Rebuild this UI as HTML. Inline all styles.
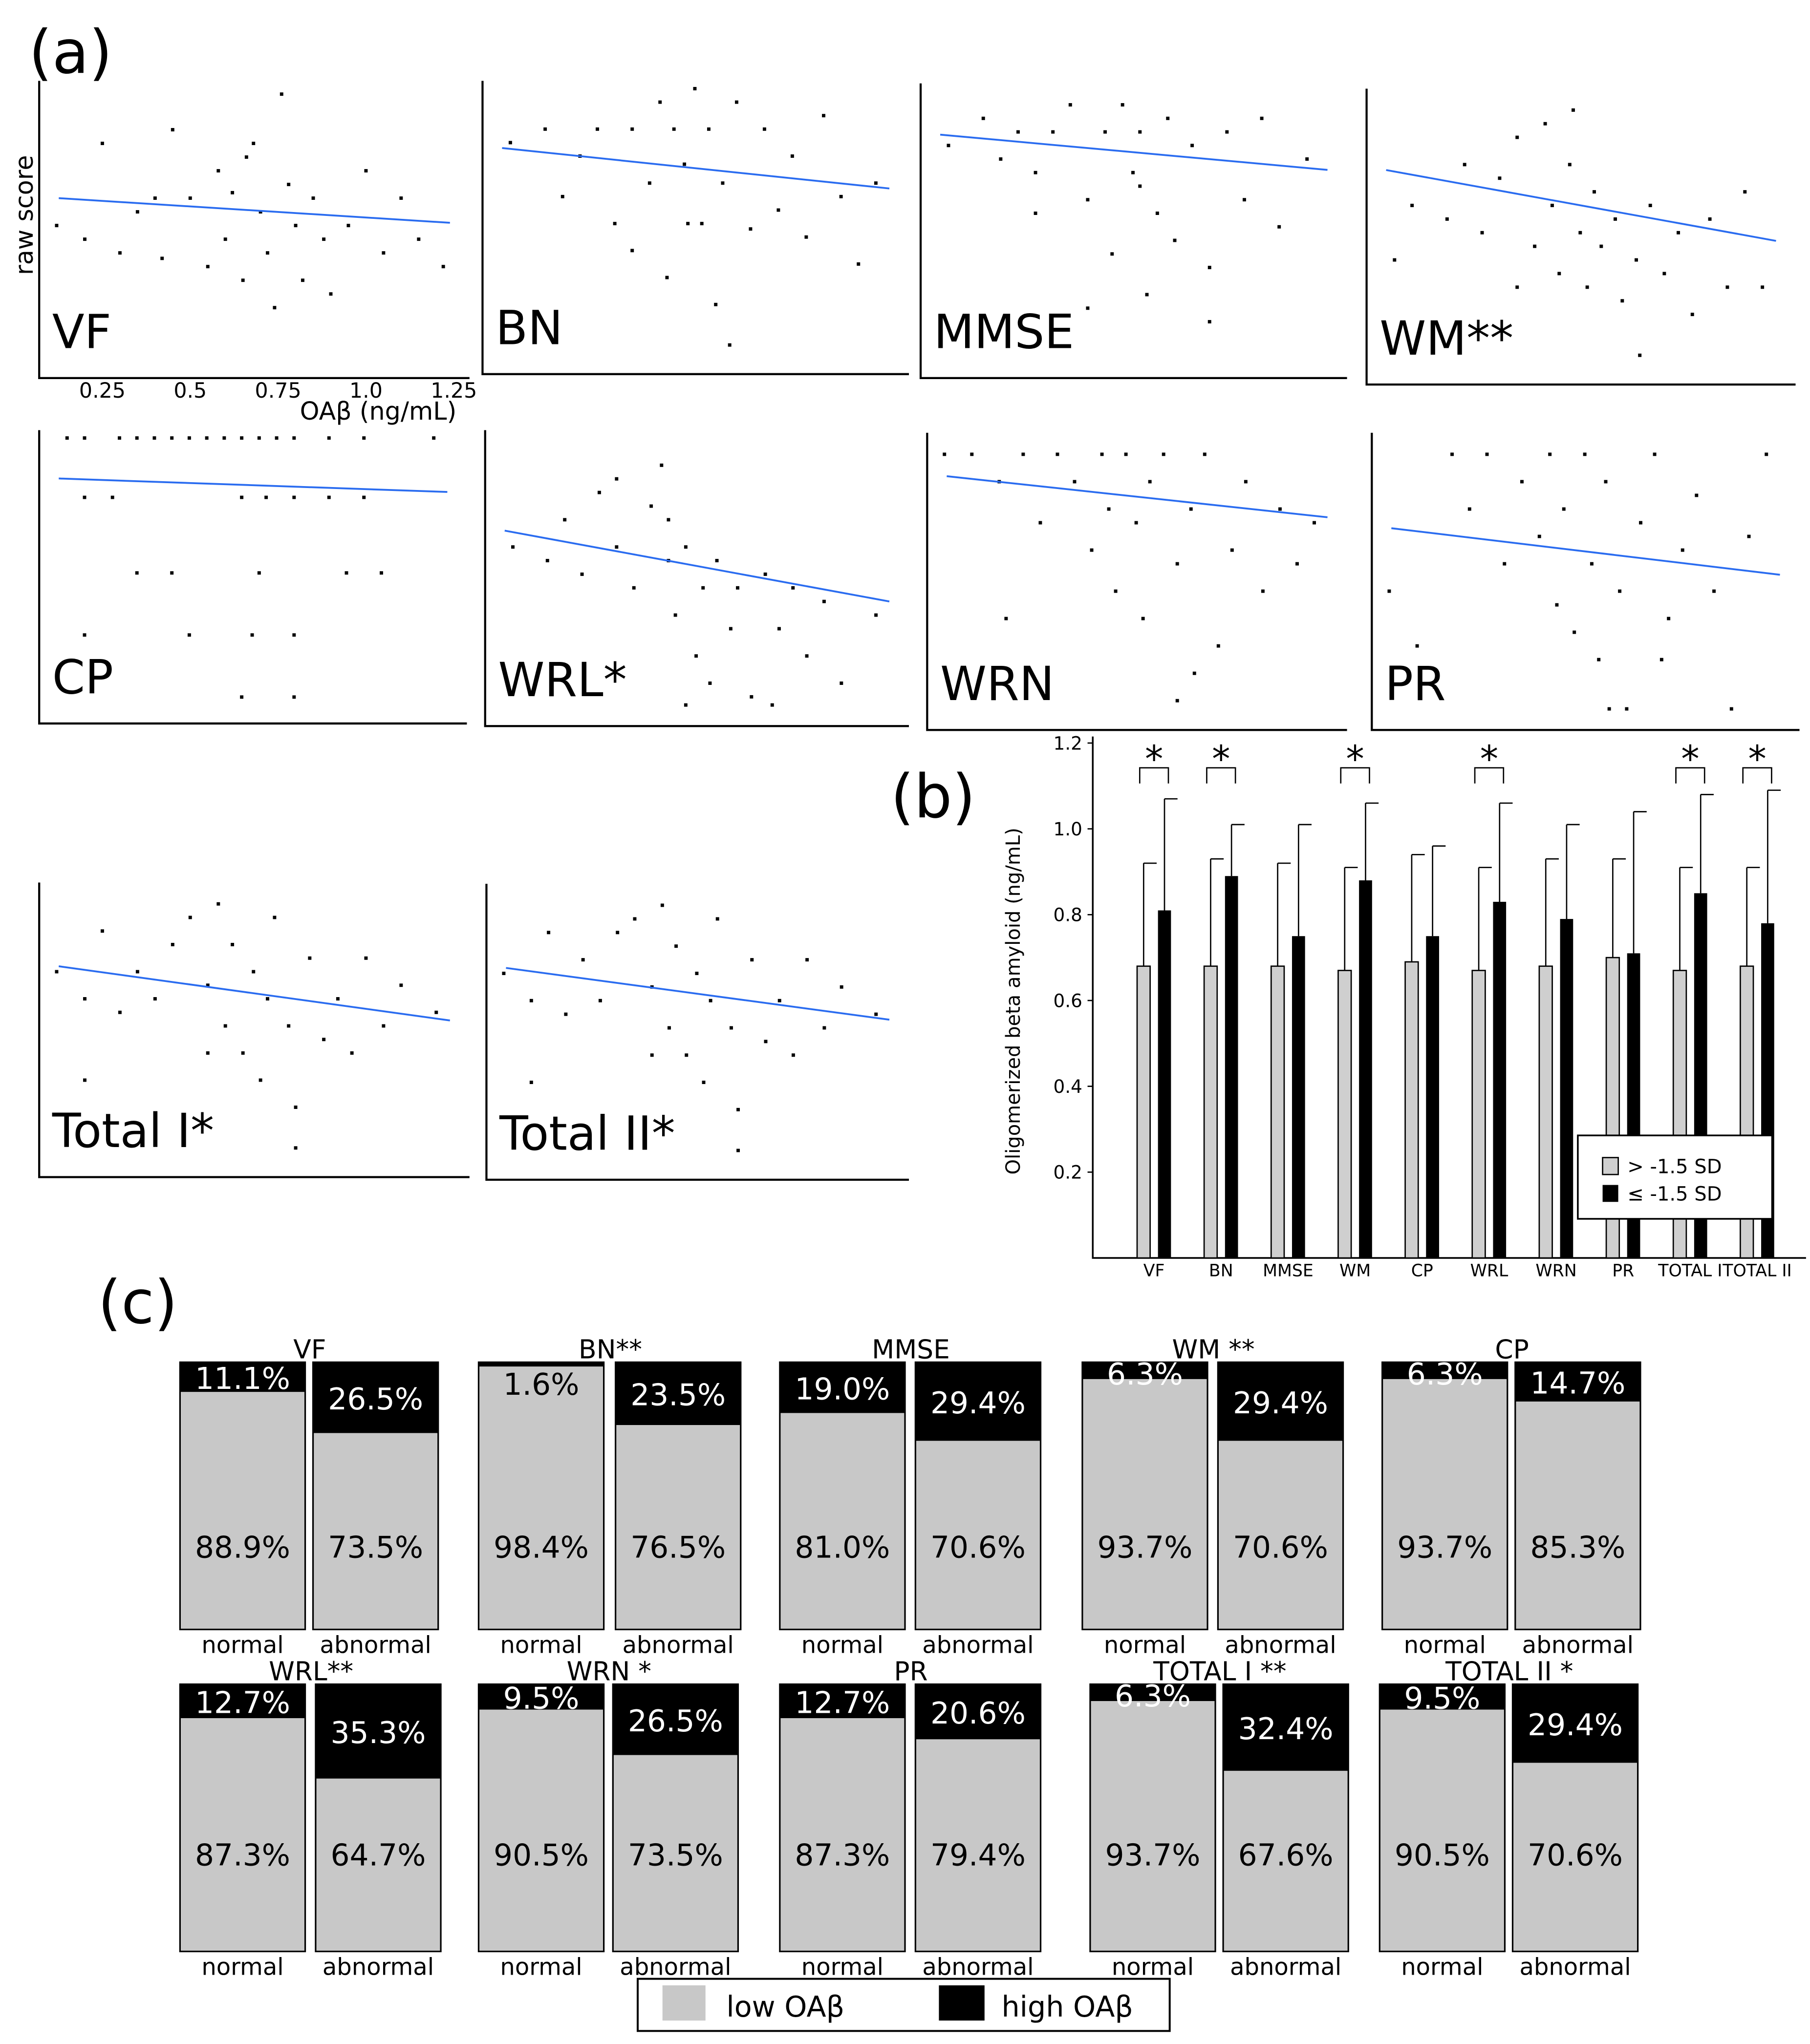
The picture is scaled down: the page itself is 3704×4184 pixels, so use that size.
<!DOCTYPE html>
<html><head><meta charset="utf-8"><style>
html,body{margin:0;padding:0;background:#fff;}
svg{display:block;}
text{font-family:"DejaVu Sans","Liberation Sans",sans-serif;}
</style></head><body>
<svg id="fig" width="3704" height="4184" viewBox="0 0 1388 1568" xmlns="http://www.w3.org/2000/svg">
<rect x="0" y="0" width="1388" height="1568" fill="#fff"/>
<text x="22" y="56" font-size="46">(a)</text>
<text x="683" y="627" font-size="46">(b)</text>
<text x="75" y="1015" font-size="46">(c)</text>
<g id="scatter"></g>
<g id="bars"></g>
<g id="stack"></g>
</svg>
<script>
const NS="http://www.w3.org/2000/svg";
function mk(tag,attrs,parent,txt){const e=document.createElementNS(NS,tag);for(const k in attrs)e.setAttribute(k,attrs[k]);if(txt!==undefined)e.textContent=txt;parent.appendChild(e);return e;}

// ---------- (a) scatter data ----------
const scatterNames=["VF","BN","MMSE","WM**","CP","WRL*","WRN","PR","Total I*","Total II*"];
const lineStartY=[0.60,0.78,0.84,0.73,0.85,0.66,0.87,0.68,0.72,0.72];
const lineEndY=[0.51,0.63,0.71,0.47,0.80,0.40,0.72,0.51,0.52,0.53];
const ptsVF=[[0.12,0.5],[0.2,0.45],[0.3,0.4],[0.35,0.55],[0.42,0.38],[0.45,0.85],[0.5,0.6],[0.55,0.35],[0.58,0.7],[0.6,0.45],[0.62,0.62],[0.65,0.3],[0.68,0.8],[0.7,0.55],[0.72,0.4],[0.74,0.2],[0.76,0.98],[0.78,0.65],[0.8,0.5],[0.82,0.3],[0.85,0.6],[0.88,0.45],[0.9,0.25],[0.95,0.5],[1.0,0.7],[1.05,0.4],[1.1,0.6],[1.15,0.45],[1.22,0.35],[0.25,0.8],[0.4,0.6],[0.66,0.75]];
const ptsBN=[[0.15,0.8],[0.25,0.85],[0.3,0.6],[0.35,0.75],[0.4,0.85],[0.45,0.5],[0.5,0.85],[0.55,0.65],[0.58,0.95],[0.6,0.3],[0.62,0.85],[0.65,0.72],[0.68,1.0],[0.7,0.5],[0.72,0.85],[0.74,0.2],[0.76,0.65],[0.8,0.95],[0.84,0.48],[0.88,0.85],[0.92,0.55],[0.96,0.75],[1.0,0.45],[1.05,0.9],[1.1,0.6],[1.15,0.35],[1.2,0.65],[0.78,0.05],[0.5,0.4],[0.66,0.5]];
const ptsMMSE=[[0.15,0.8],[0.25,0.9],[0.3,0.75],[0.35,0.85],[0.4,0.7],[0.45,0.85],[0.5,0.95],[0.55,0.6],[0.6,0.85],[0.62,0.4],[0.65,0.95],[0.68,0.7],[0.7,0.85],[0.72,0.25],[0.75,0.55],[0.78,0.9],[0.8,0.45],[0.85,0.8],[0.9,0.35],[0.95,0.85],[1.0,0.6],[1.05,0.9],[1.1,0.5],[1.18,0.75],[0.55,0.2],[0.9,0.15],[0.4,0.55],[0.7,0.65]];
const ptsWM=[[0.15,0.4],[0.2,0.6],[0.3,0.55],[0.35,0.75],[0.4,0.5],[0.45,0.7],[0.5,0.85],[0.55,0.45],[0.58,0.9],[0.6,0.6],[0.62,0.35],[0.65,0.75],[0.68,0.5],[0.7,0.3],[0.72,0.65],[0.74,0.45],[0.78,0.55],[0.8,0.25],[0.84,0.4],[0.88,0.6],[0.92,0.35],[0.96,0.5],[1.0,0.2],[1.05,0.55],[1.1,0.3],[1.15,0.65],[1.2,0.3],[0.85,0.05],[0.5,0.3],[0.66,0.95]];
const ptsCP=[[0.15,1.0],[0.2,1.0],[0.3,1.0],[0.35,1.0],[0.4,1.0],[0.45,1.0],[0.5,1.0],[0.55,1.0],[0.6,1.0],[0.65,1.0],[0.7,1.0],[0.75,1.0],[0.8,1.0],[0.9,1.0],[1.0,1.0],[1.2,1.0],[0.2,0.78],[0.28,0.78],[0.65,0.78],[0.72,0.78],[0.8,0.78],[0.9,0.78],[1.0,0.78],[0.35,0.5],[0.45,0.5],[0.7,0.5],[0.95,0.5],[1.05,0.5],[0.2,0.27],[0.5,0.27],[0.68,0.27],[0.8,0.27],[0.65,0.04],[0.8,0.04]];
const ptsWRL=[[0.15,0.6],[0.25,0.55],[0.3,0.7],[0.35,0.5],[0.4,0.8],[0.45,0.6],[0.5,0.45],[0.55,0.75],[0.58,0.9],[0.6,0.55],[0.62,0.35],[0.65,0.6],[0.68,0.2],[0.7,0.45],[0.72,0.1],[0.74,0.55],[0.78,0.3],[0.8,0.45],[0.84,0.05],[0.88,0.5],[0.92,0.3],[0.96,0.45],[1.0,0.2],[1.05,0.4],[1.1,0.1],[1.2,0.35],[0.65,0.02],[0.9,0.02],[0.45,0.85],[0.6,0.7]];
const ptsWRN=[[0.12,0.95],[0.2,0.95],[0.28,0.85],[0.35,0.95],[0.4,0.7],[0.45,0.95],[0.5,0.85],[0.55,0.6],[0.58,0.95],[0.6,0.75],[0.62,0.45],[0.65,0.95],[0.68,0.7],[0.7,0.35],[0.72,0.85],[0.76,0.95],[0.8,0.55],[0.84,0.75],[0.88,0.95],[0.92,0.25],[0.96,0.6],[1.0,0.85],[1.05,0.45],[1.1,0.75],[1.15,0.55],[1.2,0.7],[0.85,0.15],[0.8,0.05],[0.3,0.35]];
const ptsPR=[[0.12,0.45],[0.2,0.25],[0.3,0.95],[0.35,0.75],[0.4,0.95],[0.45,0.55],[0.5,0.85],[0.55,0.65],[0.58,0.95],[0.6,0.4],[0.62,0.75],[0.65,0.3],[0.68,0.95],[0.7,0.55],[0.72,0.2],[0.74,0.85],[0.78,0.45],[0.8,0.02],[0.84,0.7],[0.88,0.95],[0.92,0.35],[0.96,0.6],[1.0,0.8],[1.05,0.45],[1.1,0.02],[1.15,0.65],[1.2,0.95],[0.75,0.02],[0.25,0.1],[0.9,0.2]];
const ptsT1=[[0.12,0.7],[0.2,0.6],[0.25,0.85],[0.3,0.55],[0.35,0.7],[0.4,0.6],[0.45,0.8],[0.5,0.9],[0.55,0.65],[0.58,0.95],[0.6,0.5],[0.62,0.8],[0.65,0.4],[0.68,0.7],[0.7,0.3],[0.72,0.6],[0.74,0.9],[0.78,0.5],[0.8,0.2],[0.84,0.75],[0.88,0.45],[0.92,0.6],[0.96,0.4],[1.0,0.75],[1.05,0.5],[1.1,0.65],[1.2,0.55],[0.2,0.3],[0.8,0.05],[0.55,0.4]];
const ptsT2=[[0.12,0.7],[0.2,0.6],[0.25,0.85],[0.3,0.55],[0.35,0.75],[0.4,0.6],[0.45,0.85],[0.5,0.9],[0.55,0.65],[0.58,0.95],[0.6,0.5],[0.62,0.8],[0.65,0.4],[0.68,0.7],[0.7,0.3],[0.72,0.6],[0.74,0.9],[0.78,0.5],[0.8,0.2],[0.84,0.75],[0.88,0.45],[0.92,0.6],[0.96,0.4],[1.0,0.75],[1.05,0.5],[1.1,0.65],[1.2,0.55],[0.2,0.3],[0.8,0.05],[0.55,0.4]];
const scatterPts=[ptsVF,ptsBN,ptsMMSE,ptsWM,ptsCP,ptsWRL,ptsWRN,ptsPR,ptsT1,ptsT2];
const xTicks=[0.25,0.5,0.75,1.0,1.25];
const xTickLabels=["0.25","0.5","0.75","1.0","1.25"];
const frames=[[30,62,360,290],[370,62,697,287],[706,64,1033,290],[1048,68,1377,295],[30,330,358,555],[372,330,697,557],[711,332,1033,560],[1052,332,1380,560],[30,677,360,903],[373,678,697,905]];

const sg=document.getElementById('scatter');
frames.forEach((f,i)=>{
  const g=mk('g',{},sg);
  
  
  const [l,t,r,b]=f;
  const sx=v=>l+8+(v-0.1)/(1.25-0.1)*(r-l-20);
  const sy=v=>b-12+(t+6-(b-12))*v;
  const ax=mk('path',{d:`M${l} ${t} L${l} ${b} L${r} ${b}`,fill:'none',stroke:'#000','stroke-width':1.6},g);
  
  
  scatterPts[i].forEach(p=>{
    const d=mk('rect',{x:sx(p[0])-1.3,y:sy(p[1])-1.3,width:2.6,height:2.6,fill:'#000'},g);
    
    
  });
  const ln=mk('line',{x1:l+15,y1:sy(lineStartY[i]),x2:r-15,y2:sy(lineEndY[i]),stroke:'#2a6cf0','stroke-width':1.4},g);
  
  
  const lb=mk('text',{x:l+10,y:b-23,'font-size':36},g,scatterNames[i]);
  
  
  if(i===0){
    xTicks.forEach((v,k)=>{
      const tx=mk('text',{x:sx(v),y:b+15,'font-size':16,'text-anchor':'middle'},g,xTickLabels[k]);
      
      
    });
    const xt=mk('text',{x:290,y:322,'font-size':19,'text-anchor':'middle'},g,'OAβ (ng/mL)');
    
    
    const yt=mk('text',{x:0,y:0,'font-size':19,'text-anchor':'middle',transform:'translate(25,165) rotate(-90)'},g,'raw score');
    
    
  }
});

// ---------- (b) bar chart ----------
const barCats=["VF","BN","MMSE","WM","CP","WRL","WRN","PR","TOTAL I","TOTAL II"];
const grayVals=[0.68,0.68,0.68,0.67,0.69,0.67,0.68,0.70,0.67,0.68];
const blackVals=[0.81,0.89,0.75,0.88,0.75,0.83,0.79,0.71,0.85,0.78];
const grayErr=[0.92,0.93,0.92,0.91,0.94,0.91,0.93,0.93,0.91,0.91];
const blackErr=[1.07,1.01,1.01,1.06,0.96,1.06,1.01,1.04,1.08,1.09];
const sigFlags=[1,1,0,1,0,1,0,0,1,1];
const yTicks=[0.2,0.4,0.6,0.8,1.0,1.2];
const yTickLabels=["0.2","0.4","0.6","0.8","1.0","1.2"];
const bg=document.getElementById('bars');
const X0=838,X1=1385,Y0=965,YT=570;
const by=v=>Y0-(v/1.2)*(Y0-YT);
const bx=i=>885+i*51.4;
const axb=mk('path',{d:`M${X0} ${YT-5} L${X0} ${Y0} L${X1} ${Y0}`,fill:'none',stroke:'#000','stroke-width':1.3},bg);


yTicks.forEach((v,k)=>{
  const tk=mk('line',{x1:X0-4,x2:X0,y1:by(v),y2:by(v),stroke:'#000','stroke-width':1},bg);
  
  
  const tl=mk('text',{x:X0-8,y:by(v)+5,'font-size':14,'text-anchor':'end','font-family':'Liberation Sans'},bg,yTickLabels[k]);
  
  
});
const ybt=mk('text',{x:0,y:0,'font-size':15,'text-anchor':'middle',transform:'translate(782,768) rotate(-90)'},bg,'Oligomerized beta amyloid (ng/mL)');


barCats.forEach((c,i)=>{
  const cx=bx(i);
  const gx=cx-13,kx=cx+3;
  const eg=mk('path',{d:`M${gx+5} ${by(grayVals[i])} V${by(grayErr[i])} M${gx+5} ${by(grayErr[i])} H${gx+15}`,stroke:'#000','stroke-width':1,fill:'none'},bg);
  
  
  const ek=mk('path',{d:`M${kx+5} ${by(blackVals[i])} V${by(blackErr[i])} M${kx+5} ${by(blackErr[i])} H${kx+15}`,stroke:'#000','stroke-width':1,fill:'none'},bg);
  
  
  const r1=mk('rect',{x:gx,y:by(grayVals[i]),width:10,height:Y0-by(grayVals[i]),fill:'#cfcfcf',stroke:'#000','stroke-width':1},bg);
  
  
  const r2=mk('rect',{x:kx,y:by(blackVals[i]),width:10,height:Y0-by(blackVals[i]),fill:'#000'},bg);
  
  
  const cl=mk('text',{x:cx,y:Y0+14,'font-size':13,'text-anchor':'middle','font-family':'Liberation Sans'},bg,c);
  
  
  if(sigFlags[i]){
    const br=mk('path',{d:`M${gx+2} 601 V589 H${kx+8} V601`,fill:'none',stroke:'#000','stroke-width':1},bg);
    
    
    const st=mk('text',{x:cx,y:592,'font-size':28,'text-anchor':'middle'},bg,'*');
    
    
  }
});
const lgb=mk('g',{},bg);


mk('rect',{x:1210,y:871,width:149,height:64,fill:'#fff',stroke:'#000','stroke-width':1.3},lgb);
mk('rect',{x:1229,y:888,width:12,height:13,fill:'#cfcfcf',stroke:'#000','stroke-width':1},lgb);
mk('rect',{x:1229,y:909,width:12,height:13,fill:'#000'},lgb);
mk('text',{x:1248,y:900,'font-size':15},lgb,'> -1.5 SD');
mk('text',{x:1248,y:921,'font-size':15},lgb,'≤ -1.5 SD');

// ---------- (c) stacked bars ----------
const stackTitles=["VF","BN**","MMSE","WM **","CP","WRL**","WRN *","PR","TOTAL I **","TOTAL II *"];
const highNormal=[11.1,1.6,19.0,6.3,6.3,12.7,9.5,12.7,6.3,9.5];
const highAbnormal=[26.5,23.5,29.4,29.4,14.7,35.3,26.5,20.6,32.4,29.4];
const stackX=[[138,240],[367,472],[598,702],[830,934],[1060,1162],[138,242],[367,470],[598,702],[836,938],[1058,1160]];
const rowTop=[1045,1292];
const lowTextOffset=[150,139];
const sgc=document.getElementById('stack');
stackTitles.forEach((t,i)=>{
  const row=i<5?0:1;
  const top=rowTop[row], H=205, bot=top+H;
  const g=mk('g',{},sgc);
  
  
  const tt=mk('text',{x:(stackX[i][0]+stackX[i][1]+97)/2,y:top-3,'font-size':20,'text-anchor':'middle'},g,t);
  
  
  [highNormal[i],highAbnormal[i]].forEach((hv,j)=>{
    const x=stackX[i][j], w=96;
    const hh=H*hv/100;
    const gr=mk('rect',{x:x,y:top,width:w,height:H,fill:'#c8c8c8',stroke:'#000','stroke-width':1.2},g);
    
    
    const bk=mk('rect',{x:x,y:top,width:w,height:hh,fill:'#000'},g);
    
    
    const tiny=hv<3;
    const ht=mk('text',{x:x+w/2,y:tiny?top+25:top+Math.max(hh/2+9,17),'font-size':23,'text-anchor':'middle',fill:tiny?'#000':'#fff'},g,hv.toFixed(1)+'%');
    
    
    const lt=mk('text',{x:x+w/2,y:top+lowTextOffset[row],'font-size':23,'text-anchor':'middle',fill:'#000'},g,(100-hv).toFixed(1)+'%');
    
    
    const cl=mk('text',{x:x+w/2,y:bot+18,'font-size':18,'text-anchor':'middle'},g,j?'abnormal':'normal');
    
    
  });
});
const lgc=mk('g',{},sgc);


mk('rect',{x:489,y:1518,width:408,height:40,fill:'#fff',stroke:'#000','stroke-width':1.5},lgc);
mk('rect',{x:508,y:1523,width:33,height:27,fill:'#c8c8c8'},lgc);
mk('rect',{x:720,y:1523,width:35,height:27,fill:'#000'},lgc);
mk('text',{x:557,y:1547,'font-size':22},lgc,'low OAβ');
mk('text',{x:768,y:1547,'font-size':22},lgc,'high OAβ');
</script>
</body></html>
